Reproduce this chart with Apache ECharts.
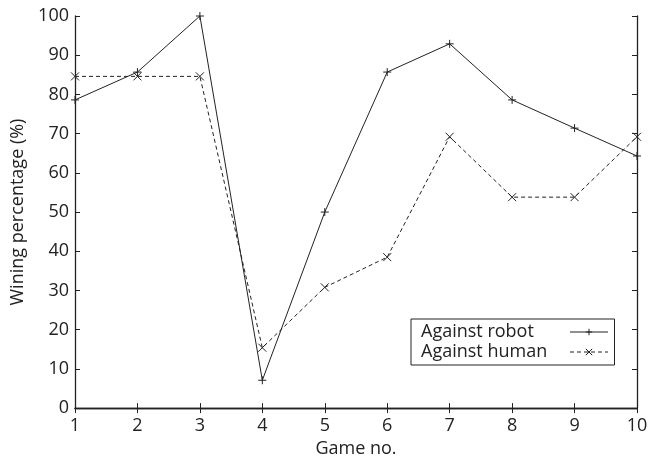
<!DOCTYPE html>
<html><head><meta charset="utf-8">
<script src="https://cdn.jsdelivr.net/npm/echarts@6/dist/echarts.min.js"></script>
<style>html,body{margin:0;padding:0;background:#fff}#c{width:670px;height:463px}</style>
</head><body><div id="c"></div>
<script>
const games = [1,2,3,4,5,6,7,8,9,10];
const robot = [78.6, 85.7, 100, 7.1, 50, 85.7, 92.9, 78.6, 71.4, 64.3];
const human = [84.6, 84.6, 84.6, 15.4, 30.8, 38.5, 69.2, 53.8, 53.8, 69.2];
const seriesNames = ['Against robot', 'Against human'];

const FONT = '"Open Sans", "Noto Sans", sans-serif';
const plus = 'path://M0,5L10,5M5,0L5,10';
const cross = 'path://M0,0L10,10M10,0L0,10';
const axisCommon = {
  axisLine: {show: true, lineStyle: {color: '#222', width: 1.3}},
  axisTick: {show: true, inside: true, length: 5, lineStyle: {color: '#222'}},
  splitLine: {show: false}
};
const chart = echarts.init(document.getElementById('c'), null, {renderer: 'canvas'});
chart.setOption({
  animation: false,
  backgroundColor: '#fff',
  textStyle: {fontFamily: FONT},
  grid: {left: 75, right: 33, top: 16, bottom: 51, containLabel: false},
  xAxis: [
    Object.assign({type: 'value', min: 1, max: 10, interval: 1, position: 'bottom',
      name: 'Game no.', nameLocation: 'middle', nameGap: 31,
      nameTextStyle: {fontSize: 18, color: '#222', fontFamily: FONT},
      axisLabel: {fontSize: 18, color: '#222', margin: 9, fontFamily: FONT}}, axisCommon),
    Object.assign({type: 'value', min: 1, max: 10, interval: 1, position: 'top',
      axisLabel: {show: false}}, axisCommon)
  ],
  yAxis: [
    Object.assign({type: 'value', min: 0, max: 100, interval: 10, position: 'left',
      name: 'Wining percentage (%)', nameLocation: 'middle', nameGap: 41, nameRotate: 90,
      nameTextStyle: {fontSize: 18, color: '#222', fontFamily: FONT},
      axisLabel: {fontSize: 18, color: '#222', margin: 6, fontFamily: FONT}}, axisCommon),
    Object.assign({type: 'value', min: 0, max: 100, interval: 10, position: 'right',
      axisLabel: {show: false}}, axisCommon)
  ],
  legend: {
    show: true, orient: 'vertical', left: 411, top: 319, align: 'right',
    itemWidth: 38, itemHeight: 8, itemGap: 2,
    padding: [4, 6, 4, 10],
    borderColor: '#222', borderWidth: 1, borderRadius: 0,
    formatter: n => '{a|' + n + '}',
    textStyle: {fontSize: 18, color: '#222', fontFamily: FONT,
      rich: {a: {fontSize: 18, color: '#222', fontFamily: FONT, width: 144, align: 'left', lineHeight: 22}}},
    data: [
      {name: seriesNames[0], lineStyle: {width: 1}, itemStyle: {borderWidth: 1}},
      {name: seriesNames[1], lineStyle: {width: 1}, itemStyle: {borderWidth: 1}}
    ]
  },
  series: [
    {name: seriesNames[0], type: 'line', data: games.map((g,i)=>[g, robot[i]]),
      symbol: plus, symbolSize: 8, showAllSymbol: true,
      lineStyle: {color: '#222', width: 1},
      itemStyle: {color: 'none', borderColor: '#222', borderWidth: 1}},
    {name: seriesNames[1], type: 'line', data: games.map((g,i)=>[g, human[i]]),
      symbol: cross, symbolSize: 8, showAllSymbol: true,
      lineStyle: {color: '#222', width: 1, type: [4, 3]},
      itemStyle: {color: 'none', borderColor: '#222', borderWidth: 1}}
  ]
});
</script></body></html>
